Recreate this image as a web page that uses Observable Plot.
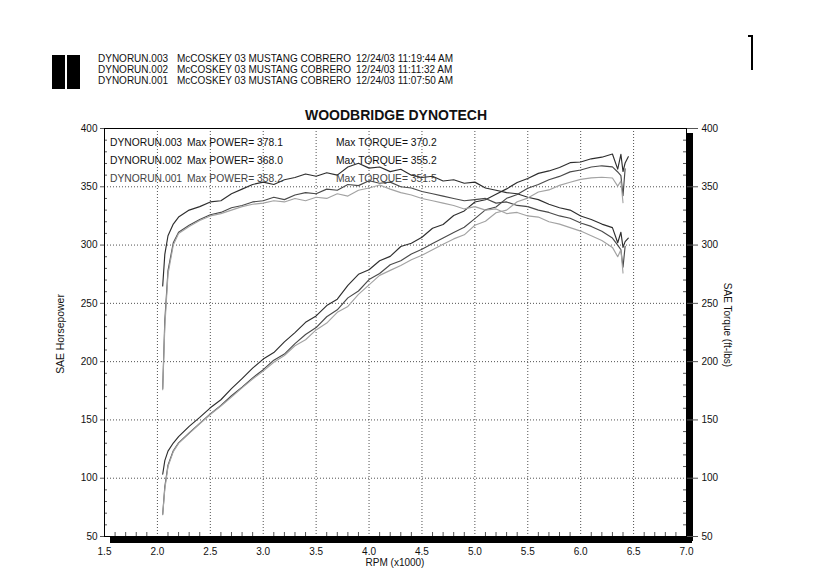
<!DOCTYPE html>
<html>
<head>
<meta charset="utf-8">
<script src="https://cdn.jsdelivr.net/npm/d3@7"></script>
<script src="https://cdn.jsdelivr.net/npm/@observablehq/plot@0.6"></script>
<style>
  body { margin: 0; background: #fff; font-family: "Liberation Sans", Arial, sans-serif; }
  #wrap { position: relative; width: 834px; height: 572px; overflow: hidden; background: #fff; }
  #wrap svg { position: absolute; left: 0; top: 0; }
  .abs { position: absolute; white-space: pre; color: #111; }
  .hdr { font-size: 10px; line-height: 12px; }
  .leg { font-size: 10.3px; line-height: 12px; }
  .title { font-size: 14px; font-weight: bold; line-height: 16px; transform: translateX(-50%); }
  .rot { font-size: 10.4px; line-height: 12px; transform: translate(-50%, -50%) rotate(-90deg); }
  .rotR { font-size: 10px; line-height: 12px; transform: translate(-50%, -50%) rotate(90deg); }
  .blk { position: absolute; background: #000; }
</style>
</head>
<body>
<div id="wrap"></div>
<script>
// ---------- data ----------
const runs = ["DYNORUN.003", "DYNORUN.002", "DYNORUN.001"];
const car = "McCOSKEY 03 MUSTANG COBRERO";
const stamps = ["12/24/03 11:19:44 AM", "12/24/03 11:11:32 AM", "12/24/03 11:07:50 AM"];
const maxPower = ["378.1", "368.0", "358.2"];
const maxTorque = ["370.2", "355.2", "351.5"];

const xTicks = [1.5, 2.0, 2.5, 3.0, 3.5, 4.0, 4.5, 5.0, 5.5, 6.0, 6.5, 7.0];
const yTicks = [50, 100, 150, 200, 250, 300, 350, 400];

// RPM (x1000)
const rpm = [2.05, 2.07, 2.1, 2.15, 2.2, 2.3, 2.4, 2.5, 2.6, 2.7, 2.8, 2.9, 3.0, 3.1, 3.2, 3.3, 3.4,
  3.5, 3.6, 3.7, 3.8, 3.9, 4.0, 4.1, 4.2, 4.3, 4.4, 4.5, 4.6, 4.7, 4.8, 4.9, 5.0, 5.1, 5.2, 5.3, 5.4,
  5.5, 5.6, 5.7, 5.8, 5.9, 6.0, 6.1, 6.2, 6.3, 6.35, 6.38, 6.4, 6.42, 6.45];

const power003 = [103.4, 115.1, 123.2, 130.2, 135.7, 144.5, 152.2, 160.4, 167.3, 176.8, 185.5, 194.4,
  202.2, 207.8, 216.9, 224.9, 233.7, 239.2, 248.1, 253.6, 265.5, 274.9, 278.8, 286.5, 290.3, 298.8,
  301.6, 306.7, 314.4, 317.7, 325.4, 329.3, 337.0, 338.9, 343.6, 348.2, 353.7, 357.1, 361.5, 363.6,
  366.6, 370.7, 371.3, 374.0, 375.4, 378.1, 365.1, 377.8, 363.1, 370.4, 375.8];
const torque003 = [265, 292, 308, 318, 324, 330, 333, 337, 338, 344, 348, 352, 354, 352, 356, 358, 361,
  359, 362, 360, 367, 370.2, 366, 367, 363, 365, 360, 358, 359, 355, 356, 353, 354, 349, 347, 345, 344,
  341, 339, 335, 332, 330, 325, 322, 318, 315, 302, 311, 298, 303, 306];

const power002 = [69.1, 92.6, 111.2, 123.6, 130.3, 138.8, 147.1, 155.2, 162.4, 170.7, 178.1, 186.1,
  193.1, 201.3, 206.5, 215.5, 223.3, 229.2, 238.5, 244.5, 254.7, 260.6, 270.4, 275.6, 283.1, 286.6,
  292.4, 296.5, 301.3, 306.1, 310.7, 315.3, 322.7, 330.2, 332.7, 340.1, 343.4, 348.7, 351.9, 356.0,
  358.9, 362.8, 364.4, 367.0, 368.0, 367.1, 362.7, 359.6, 342.4, 365.5];
const torque002 = [177, 235, 278, 302, 311, 317, 322, 326, 328, 332, 334, 337, 338, 341, 339, 343, 345,
  344, 348, 347, 352, 351, 355.2, 353, 354, 350, 349, 346, 344, 342, 340, 338, 339, 340, 336, 337, 334,
  333, 330, 328, 325, 323, 319, 316, 311.8, 306, 300, 296, 281, 299];

const power001 = [68.7, 90.7, 110.0, 122.8, 129.9, 138.4, 146.7, 154.7, 161.9, 169.6, 177.5, 185.0,
  191.9, 199.5, 205.3, 213.6, 218.8, 227.2, 233.1, 242.3, 247.4, 257.7, 265.8, 274.0, 278.3, 282.5,
  287.4, 291.3, 296.0, 300.7, 305.3, 308.8, 317.0, 320.4, 327.7, 330.0, 337.2, 340.3, 345.5, 347.3,
  351.2, 353.9, 356.4, 357.7, 358.2, 357.5, 350.6, 355.0, 336.3];
const torque001 = [176, 230, 275, 300, 310, 316, 321, 325, 327, 330, 333, 335, 336, 338, 337, 340, 338,
  341, 340, 344, 342, 347, 349, 351.5, 348, 345, 343, 340, 338, 336, 334, 331, 333, 330, 331, 327, 328,
  325, 324, 320, 318, 315, 312, 308, 304, 298, 290, 296, 276];

// ---------- build table ----------
const series = [
  {run: runs[0], kind: "power", values: power003},
  {run: runs[0], kind: "torque", values: torque003},
  {run: runs[1], kind: "power", values: power002},
  {run: runs[1], kind: "torque", values: torque002},
  {run: runs[2], kind: "power", values: power001},
  {run: runs[2], kind: "torque", values: torque001}
];
const rows = series.flatMap(s => s.values.map((v, i) => ({rpm: rpm[i], value: v, run: s.run, kind: s.kind})));

const minorX = d3.range(15, 71).filter(d => d % 5 !== 0).map(d => d / 10);
const minorY = d3.range(50, 401, 10).filter(d => d % 50 !== 0);

const W = 834, H = 572, mT = 128, mB = 36, mL = 104, mR = 148;
const innerW = W - mL - mR, innerH = H - mT - mB;

const chart = Plot.plot({
  width: W, height: H,
  marginTop: mT, marginBottom: mB, marginLeft: mL, marginRight: mR,
  style: {fontFamily: "'Liberation Sans', Arial, sans-serif", fontSize: "10px", color: "#111", background: "transparent"},
  x: {domain: [1.5, 7]},
  y: {domain: [50, 400]},
  color: {domain: runs, range: ["#2e2e2e", "#4a4a4a", "#a3a3a3"]},
  marks: [
    Plot.gridX(xTicks, {stroke: "#333", strokeOpacity: 0.85, strokeDasharray: "1,2"}),
    Plot.gridY(yTicks, {stroke: "#333", strokeOpacity: 0.85, strokeDasharray: "1,2"}),
    Plot.ruleX(minorX, {insetTop: innerH - 4, stroke: "#555"}),
    Plot.ruleY(minorY, {insetRight: innerW - 3, stroke: "#555"}),
    Plot.ruleY(minorY, {insetLeft: innerW - 3, stroke: "#555"}),
    Plot.line(rows, {x: "rpm", y: "value", z: d => d.run + d.kind, stroke: "run", strokeWidth: 1.15, curve: "linear"}),
    Plot.frame({stroke: "#000", strokeWidth: 1}),
    Plot.ruleY([50], {stroke: "#000", strokeWidth: 6, dx: 6, dy: 3.5}),
    Plot.ruleX([7], {stroke: "#000", strokeWidth: 6, dx: 3.5, dy: 5}),
    Plot.axisX(xTicks, {anchor: "bottom", tickSize: 0, tickPadding: 11, tickFormat: d3.format(".1f"), label: null}),
    Plot.axisY(yTicks, {anchor: "left", tickSize: 4, tickPadding: 3, label: null, stroke: "#555"}),
    Plot.axisY(yTicks, {anchor: "right", tickSize: 11, tickPadding: 4, label: null, stroke: "#555"})
  ]
});

const wrap = document.getElementById("wrap");
wrap.appendChild(chart);

function add(cls, text, left, top, extra) {
  const d = document.createElement("div");
  d.className = "abs " + cls;
  d.textContent = text;
  d.style.left = left + "px";
  d.style.top = top + "px";
  if (extra) Object.assign(d.style, extra);
  wrap.appendChild(d);
  return d;
}
function block(left, top, w, h) {
  const d = document.createElement("div");
  d.className = "blk";
  Object.assign(d.style, {left: left + "px", top: top + "px", width: w + "px", height: h + "px"});
  wrap.appendChild(d);
}

// header icon
block(52, 55, 13, 34);
block(67, 55, 13, 34);
// header rows
runs.forEach((r, i) => {
  const top = 53 + i * 11;
  add("hdr", r, 98, top);
  add("hdr", car, 177, top);
  add("hdr", stamps[i], 356, top);
});
// title
add("title", "WOODBRIDGE DYNOTECH", 396, 107);
// in-plot legend
const legColors = ["#111", "#111", "#444"];
runs.forEach((r, i) => {
  const top = 137 + i * 18;
  const c = {color: legColors[i]};
  add("leg", r, 110, top, c);
  add("leg", "Max POWER= " + maxPower[i], 187, top, c);
  add("leg", "Max TORQUE= " + maxTorque[i], 336, top, c);
});
// axis titles
add("rot", "SAE Horsepower", 61, 334);
add("rotR", "SAE Torque (ft-lbs)", 727, 325);
add("hdr", "RPM (x1000)", 395, 557, {transform: "translateX(-50%)"});
// margin mark at top right
block(751, 35, 1.5, 35);
block(748, 35, 4, 1.5);
</script>
</body>
</html>
